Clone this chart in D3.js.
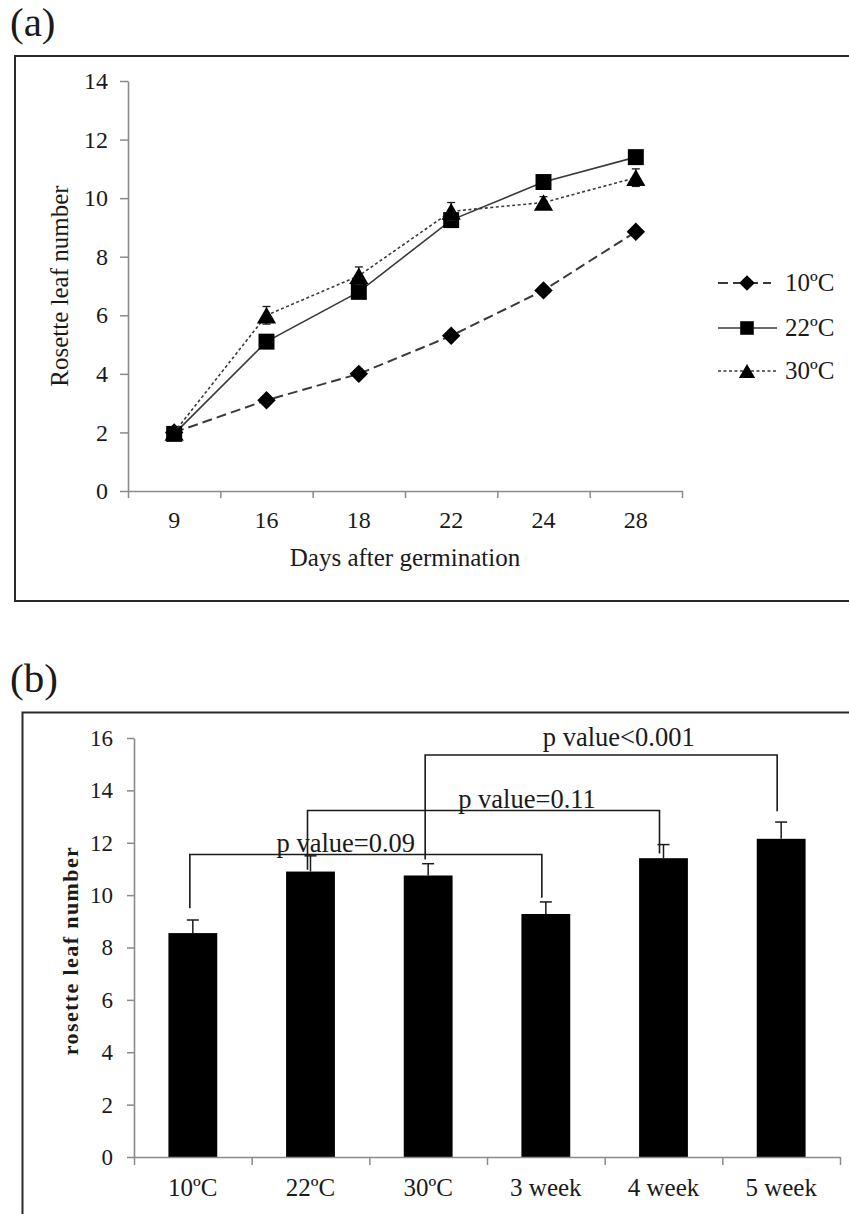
<!DOCTYPE html>
<html>
<head>
<meta charset="utf-8">
<script src="https://cdn.jsdelivr.net/npm/d3@7"></script>
<style>
  body { margin: 0; background: #fff; }
  svg { display: block; }
  text { font-family: "Liberation Serif", "Times New Roman", serif; fill: #1a1a1a; }
</style>
</head>
<body>
<svg id="fig" width="849" height="1214"></svg>
<script>
// ---- Panel (a): rosette leaf number by day after germination ----
const days = ["9", "16", "18", "22", "24", "28"];
const seriesNames = ["10ºC", "22ºC", "30ºC"];
const leaf10 = [2.0, 3.1, 4.0, 5.3, 6.85, 8.85];
const leaf22 = [1.95, 5.1, 6.8, 9.25, 10.55, 11.4];
const leaf30 = [2.0, 6.0, 7.35, 9.55, 9.85, 10.7];
const err10 = [0.1, 0.15, 0.15, 0.15, 0.15, 0.15];
const err22 = [0.1, 0.2, 0.2, 0.2, 0.2, 0.2];
const err30 = [0.1, 0.3, 0.3, 0.3, 0.2, 0.3];
const yTicksA = [0, 2, 4, 6, 8, 10, 12, 14];

// ---- Panel (b): rosette leaf number per treatment ----
const groups = ["10ºC", "22ºC", "30ºC", "3 week", "4 week", "5 week"];
const meanB = [8.55, 10.9, 10.75, 9.28, 11.41, 12.15];
const errB = [0.5, 0.6, 0.45, 0.46, 0.52, 0.64];
const yTicksB = [0, 2, 4, 6, 8, 10, 12, 14, 16];
// significance brackets: compared groups, bracket level, foot ends, label
const pFrom = ["10ºC", "22ºC", "30ºC"];
const pTo = ["3 week", "4 week", "5 week"];
const pLevel = [11.55, 13.23, 15.35];
const pFootFrom = [9.5, 10.97, 11.36];
const pFootTo = [9.9, 11.59, 13.2];
const pLabels = ["p value=0.09", "p value=0.11", "p value<0.001"];
const pLabelAt = [1.3, 2.84, 3.62]; // label centre, in category index units

const svg = d3.select("#fig");
const ink = "#1a1a1a";
const axisGrey = "#8a8a8a";
const serif = '"Liberation Serif", "Times New Roman", serif';

// triangle marker centred on its bounding box (spreadsheet-style marker)
const boxTriangle = {
  draw(context, size) {
    const s = Math.sqrt(size * 4 / Math.sqrt(3));
    const h = s * Math.sqrt(3) / 2;
    context.moveTo(0, -h / 2);
    context.lineTo(s / 2, h / 2);
    context.lineTo(-s / 2, h / 2);
    context.closePath();
  }
};

// ================= Panel (a) =================
svg.append("text").attr("x", 10).attr("y", 36)
  .style("font-size", "41px").text("(a)");
svg.append("rect").attr("x", 15).attr("y", 56).attr("width", 900).attr("height", 545)
  .attr("fill", "none").attr("stroke", "#2a2a2a").attr("stroke-width", 2);

const A = { left: 128, right: 682, top: 81, bottom: 491 };
const xA = d3.scaleBand().domain(days).range([A.left, A.right]);
const xAEdge = d3.scaleLinear().domain([0, days.length]).range([A.left, A.right]);
const yA = d3.scaleLinear().domain([0, 14]).range([A.bottom, A.top]);

const gA = svg.append("g");
// y axis
const yAxisA = gA.append("g").attr("transform", `translate(${A.left},0)`)
  .call(d3.axisLeft(yA).tickValues(yTicksA).tickSize(8).tickPadding(12).tickSizeOuter(0));
// x axis: ticks at category boundaries, labels at centres
const xAxisA = gA.append("g").attr("transform", `translate(0,${A.bottom})`)
  .call(d3.axisBottom(xAEdge).tickValues(d3.range(days.length + 1)).tickSize(7).tickFormat("").tickSizeOuter(0));
const xLabA = gA.append("g").attr("transform", `translate(0,${A.bottom})`)
  .call(d3.axisBottom(xA).tickSize(0).tickPadding(20));
xLabA.select(".domain").remove();
[yAxisA, xAxisA].forEach(g => {
  g.select(".domain").attr("stroke", axisGrey).attr("stroke-width", 1.6);
  g.selectAll(".tick line").attr("stroke", axisGrey).attr("stroke-width", 1.5);
});
gA.selectAll(".tick text").style("font-size", "24px").attr("fill", ink).style("font-family", serif);

// axis titles
gA.append("text").attr("x", (A.left + A.right) / 2).attr("y", 566)
  .attr("text-anchor", "middle").style("font-size", "25px").text("Days after germination");
gA.append("text").attr("transform", `translate(68,${(A.top + A.bottom) / 2}) rotate(-90)`)
  .attr("text-anchor", "middle").style("font-size", "25px").text("Rosette leaf number");

// series definitions
const diamond = d3.symbol().type(d3.symbolSquare).size(170);
const square = d3.symbol().type(d3.symbolSquare).size(255);
const triangle = d3.symbol().type(boxTriangle).size(160);
const seriesA = [
  { name: seriesNames[0], values: leaf10, err: err10, dash: "10,5", width: 2, shape: diamond, rot: 45 },
  { name: seriesNames[1], values: leaf22, err: err22, dash: null, width: 1.6, shape: square, rot: 0 },
  { name: seriesNames[2], values: leaf30, err: err30, dash: "3,2.5", width: 1.6, shape: triangle, rot: 0 }
];

const line = d3.line().x((d, i) => xA(days[i]) + xA.bandwidth() / 2).y(d => yA(d));
seriesA.forEach(s => {
  const g = gA.append("g");
  // error bars
  s.values.forEach((v, i) => {
    const cx = xA(days[i]) + xA.bandwidth() / 2;
    g.append("line").attr("x1", cx).attr("x2", cx)
      .attr("y1", yA(v - s.err[i])).attr("y2", yA(v + s.err[i]))
      .attr("stroke", ink).attr("stroke-width", 1.3);
    [v - s.err[i], v + s.err[i]].forEach(e => {
      g.append("line").attr("x1", cx - 4).attr("x2", cx + 4)
        .attr("y1", yA(e)).attr("y2", yA(e)).attr("stroke", ink).attr("stroke-width", 1.3);
    });
  });
  g.append("path").datum(s.values).attr("d", line).attr("fill", "none")
    .attr("stroke", "#3a3a3a").attr("stroke-width", s.width)
    .attr("stroke-dasharray", s.dash);
  g.selectAll("path.m").data(s.values).join("path").attr("class", "m")
    .attr("d", s.shape)
    .attr("transform", (d, i) => `translate(${xA(days[i]) + xA.bandwidth() / 2},${yA(d)}) rotate(${s.rot})`)
    .attr("fill", "#000");
});

// legend
const legendY = [283, 328, 371];
seriesA.forEach((s, i) => {
  const g = svg.append("g").attr("transform", `translate(0,${legendY[i]})`);
  g.append("line").attr("x1", 718).attr("x2", i === 0 ? 771 : 777).attr("y1", 0).attr("y2", 0)
    .attr("stroke", "#3a3a3a").attr("stroke-width", s.width).attr("stroke-dasharray", s.dash);
  g.append("path").attr("d", s.shape).attr("transform", `translate(747,0) rotate(${s.rot}) scale(0.85)`)
    .attr("fill", "#000");
  g.append("text").attr("x", 785).attr("y", 8).style("font-size", "25px").text(s.name);
});

// ================= Panel (b) =================
svg.append("text").attr("x", 10).attr("y", 692)
  .style("font-size", "41px").text("(b)");
svg.append("rect").attr("x", 22.5).attr("y", 712.5).attr("width", 900).attr("height", 600)
  .attr("fill", "none").attr("stroke", "#2a2a2a").attr("stroke-width", 2);

const B = { left: 134, right: 840, top: 738, bottom: 1157 };
const xB = d3.scaleBand().domain(groups).range([B.left, B.right]);
const xBEdge = d3.scaleLinear().domain([0, groups.length]).range([B.left, B.right]);
const xBIdx = d3.scaleLinear().domain([0, groups.length - 1])
  .range([B.left + xB.bandwidth() / 2, B.right - xB.bandwidth() / 2]);
const yB = d3.scaleLinear().domain([0, 16]).range([B.bottom, B.top]);
const barW = xB.bandwidth() * 0.415;

const gB = svg.append("g");
// bars
gB.selectAll("rect.bar").data(meanB).join("rect").attr("class", "bar")
  .attr("x", (d, i) => xB(groups[i]) + (xB.bandwidth() - barW) / 2)
  .attr("width", barW)
  .attr("y", d => yB(d)).attr("height", d => yB(0) - yB(d))
  .attr("fill", "#000");
// error bars (upper)
meanB.forEach((v, i) => {
  const cx = xB(groups[i]) + xB.bandwidth() / 2;
  gB.append("line").attr("x1", cx).attr("x2", cx).attr("y1", yB(v)).attr("y2", yB(v + errB[i]))
    .attr("stroke", ink).attr("stroke-width", 1.5);
  gB.append("line").attr("x1", cx - 6).attr("x2", cx + 6)
    .attr("y1", yB(v + errB[i])).attr("y2", yB(v + errB[i]))
    .attr("stroke", ink).attr("stroke-width", 1.5);
});

// axes
const yAxisB = gB.append("g").attr("transform", `translate(${B.left},0)`)
  .call(d3.axisLeft(yB).tickValues(yTicksB).tickSize(7).tickPadding(14).tickSizeOuter(0));
const xAxisB = gB.append("g").attr("transform", `translate(0,${B.bottom})`)
  .call(d3.axisBottom(xBEdge).tickValues(d3.range(groups.length + 1)).tickSize(8).tickFormat("").tickSizeOuter(0));
const xLabB = gB.append("g").attr("transform", `translate(0,${B.bottom})`)
  .call(d3.axisBottom(xB).tickSize(0).tickPadding(21));
xLabB.select(".domain").remove();
[yAxisB, xAxisB].forEach(g => {
  g.select(".domain").attr("stroke", axisGrey).attr("stroke-width", 1.6);
  g.selectAll(".tick line").attr("stroke", axisGrey).attr("stroke-width", 1.5);
});
yAxisB.selectAll(".tick text").style("font-size", "23px").attr("fill", ink).style("font-family", serif);
xLabB.selectAll(".tick text").style("font-size", "25px").attr("fill", ink).style("font-family", serif);

gB.append("text").attr("transform", `translate(78,${(B.top + B.bottom) / 2 + 3}) rotate(-90)`)
  .attr("text-anchor", "middle").style("font-size", "22px").style("font-weight", "bold")
  .style("letter-spacing", "1.4px").text("rosette leaf number");

// significance brackets
pLabels.forEach((lab, i) => {
  const x1 = xB(pFrom[i]) + xB.bandwidth() / 2 - 3;
  const x2 = xB(pTo[i]) + xB.bandwidth() / 2 - 4;
  const p = d3.path();
  p.moveTo(x1, yB(pFootFrom[i]));
  p.lineTo(x1, yB(pLevel[i]));
  p.lineTo(x2, yB(pLevel[i]));
  p.lineTo(x2, yB(pFootTo[i]));
  gB.append("path").attr("d", p.toString()).attr("fill", "none")
    .attr("stroke", ink).attr("stroke-width", 1.6);
  gB.append("text").attr("x", xBIdx(pLabelAt[i])).attr("y", yB(pLevel[i]) - (i === 2 ? 9 : 3))
    .attr("text-anchor", "middle").style("font-size", "26.5px").text(lab);
});
</script>
</body>
</html>
